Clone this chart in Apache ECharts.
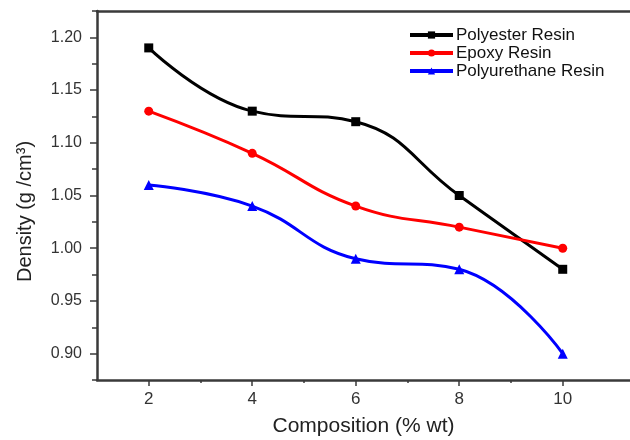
<!DOCTYPE html>
<html><head><meta charset="utf-8">
<script src="https://cdn.jsdelivr.net/npm/echarts@6/dist/echarts.min.js"></script>
<style>html,body{margin:0;padding:0;background:#fff}#c{width:630px;height:440px}</style>
</head><body><div id="c"></div>
<script>
const composition = [2, 4, 6, 8, 10];
const polyester = [1.19, 1.13, 1.12, 1.05, 0.98];
const epoxy = [1.13, 1.09, 1.04, 1.02, 1.00];
const polyurethane = [1.06, 1.04, 0.99, 0.98, 0.90];
const xMajor = [2, 4, 6, 8, 10];
const xMinor = [3, 5, 7, 9];
const yMajor = [0.90, 0.95, 1.00, 1.05, 1.10, 1.15, 1.20];
const yMinor = [0.875, 0.925, 0.975, 1.025, 1.075, 1.125, 1.175, 1.225];

const font = 'Liberation Sans, Arial, sans-serif';
const axisCol = '#3a3a3a';
const pairs = a => composition.map((x, i) => [x, a[i]]);

const chart = echarts.init(document.getElementById('c'), null, {renderer: 'canvas'});
const xBase = {type: 'value', min: 1, max: 11.3, interval: 1, splitLine: {show: false}};
const yBase = {type: 'value', min: 0.875, max: 1.225, interval: 0.025, splitLine: {show: false}};
chart.setOption({
  animation: false,
  grid: {left: 97, right: 0, top: 11, bottom: 60, containLabel: false, outerBoundsMode: 'none'},
  legend: {
    orient: 'vertical', left: 403, top: 21, itemWidth: 43, itemHeight: 9, itemGap: 0,
    lineStyle: {width: 4},
    textStyle: {fontFamily: font, fontSize: 17, color: '#111', padding: [0, 0, 0, -2], lineHeight: 18},
    data: ['Polyester Resin', 'Epoxy Resin', 'Polyurethane Resin']
  },
  xAxis: [
    Object.assign({}, xBase, {
      position: 'bottom',
      name: 'Composition (% wt)', nameLocation: 'middle', nameGap: 36,
      nameTextStyle: {fontFamily: font, fontSize: 21, color: '#222'},
      axisLine: {show: true, lineStyle: {color: axisCol, width: 2.5}},
      axisTick: {show: true, customValues: xMajor, length: 6, lineStyle: {color: axisCol, width: 1.5}},
      axisLabel: {show: true, customValues: xMajor, margin: 11, fontFamily: font, fontSize: 17, color: '#333'}
    }),
    Object.assign({}, xBase, {
      position: 'bottom', offset: 0,
      axisLine: {show: false},
      axisTick: {show: true, customValues: xMinor, length: 3, lineStyle: {color: axisCol, width: 1.5}},
      axisLabel: {show: false}
    }),
    Object.assign({}, xBase, {
      position: 'top',
      axisLine: {show: true, lineStyle: {color: axisCol, width: 2.5}},
      axisTick: {show: false}, axisLabel: {show: false}
    })
  ],
  yAxis: [
    Object.assign({}, yBase, {
      position: 'left',
      name: 'Density (g /cm³)', nameLocation: 'middle', nameGap: 62, nameRotate: 90,
      nameTextStyle: {fontFamily: font, fontSize: 20, color: '#222', padding: [0, 32, 0, 0]},
      axisLine: {show: true, lineStyle: {color: axisCol, width: 2.5}},
      axisTick: {show: true, customValues: yMajor, length: 7, lineStyle: {color: axisCol, width: 1.5}},
      axisLabel: {show: true, customValues: yMajor, margin: 15, fontFamily: font, fontSize: 16, color: '#333',
        formatter: v => v.toFixed(2)}
    }),
    Object.assign({}, yBase, {
      position: 'left', offset: 0,
      axisLine: {show: false},
      axisTick: {show: true, customValues: yMinor, length: 5, lineStyle: {color: axisCol, width: 1.5}},
      axisLabel: {show: false}
    })
  ],
  series: [
    {name: 'Polyester Resin', type: 'line', smooth: 0.45, data: pairs(polyester),
     symbol: 'rect', symbolSize: 9, color: '#000000', lineStyle: {width: 3}},
    {name: 'Epoxy Resin', type: 'line', smooth: 0.45, data: pairs(epoxy),
     symbol: 'circle', symbolSize: 9, color: '#ff0000', lineStyle: {width: 3}},
    {name: 'Polyurethane Resin', type: 'line', smooth: 0.45, data: pairs(polyurethane),
     symbol: 'triangle', symbolSize: 10, color: '#0000ff', lineStyle: {width: 3}}
  ]
});
</script></body></html>
